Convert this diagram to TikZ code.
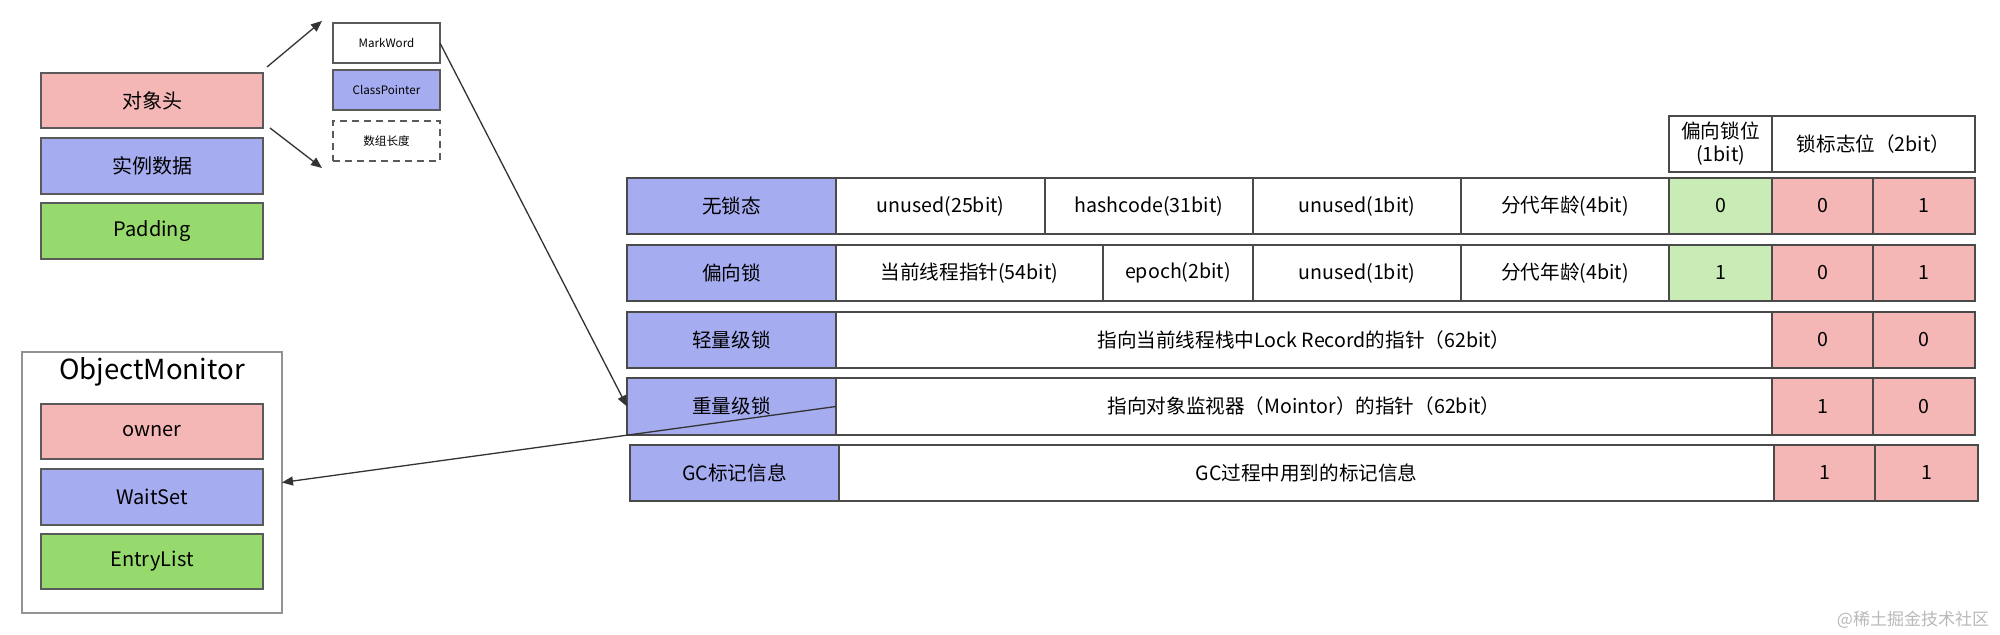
\documentclass[tikz,border=0pt]{standalone}
\usepackage{fontspec}
\setmainfont{Noto Sans CJK SC}
\usetikzlibrary{arrows.meta}
\definecolor{pinkc}{HTML}{F4B7B6}
\definecolor{bluec}{HTML}{A6ACF0}
\definecolor{greenc}{HTML}{96D96C}
\definecolor{lgreenc}{HTML}{C9EBB5}
\definecolor{edgec}{HTML}{4A4A4A}
\definecolor{boxedge}{HTML}{5A5A5A}
\definecolor{arrowc}{HTML}{333333}
\newcommand\mycell[7]{\node[#1,minimum width=#5*0.5pt,minimum height=#6*0.5pt,anchor=north west] (#2) at (#3,#4) {#7};}
\tikzset{
  cellbox/.style={draw=edgec,line width=0.8pt,inner sep=0pt,outer sep=0pt,fill=white,font=\fontsize{9.8}{11.5}\selectfont,align=center},
  sidebox/.style={draw=boxedge,line width=0.75pt,inner sep=0pt,outer sep=0pt,font=\fontsize{10}{12}\selectfont},
  smallbox/.style={draw=boxedge,line width=0.75pt,inner sep=0pt,outer sep=0pt,fill=white,font=\fontsize{5.8}{7}\selectfont},
  conn/.style={draw=arrowc,line width=0.65pt,-{Triangle[length=5.5pt,width=4.5pt]}}
}
\begin{document}
\begin{tikzpicture}[x=0.5pt,y=-0.5pt]
\useasboundingbox[fill=white] (0,0) rectangle (2000,635);
% left object layout
\mycell{sidebox,fill=pinkc}{oh}{41}{73}{222}{55}{对象头}
\mycell{sidebox,fill=bluec}{id}{41}{138}{222}{56}{实例数据}
\mycell{sidebox,fill=greenc}{pad}{41}{203}{222}{56}{Padding}
% header parts
\mycell{smallbox}{mw}{333}{23}{107}{40}{MarkWord}
\mycell{smallbox,fill=bluec}{cp}{333}{70}{107}{40}{ClassPointer}
\mycell{smallbox,dashed,dash pattern=on 3.5pt off 2.5pt}{al}{333}{121}{107}{40}{数组长度}
\coordinate (a1s) at (267,67);
\coordinate (a1e) at (322,21);
\coordinate (a2s) at (270,128);
\coordinate (a2e) at (322,168);
\draw[conn] (a1s) -- (a1e);
\draw[conn] (a2s) -- (a2e);
% ObjectMonitor
\mycell{draw=gray!85,line width=0.7pt,inner sep=0pt,outer sep=0pt}{om}{22}{352}{260}{261}{}
\node[font=\fontsize{13.8}{16}\selectfont] (omt) at (152,372) {ObjectMonitor};
\mycell{sidebox,fill=pinkc}{own}{41}{404}{222}{55}{owner}
\mycell{sidebox,fill=bluec}{ws}{41}{469}{222}{56}{WaitSet}
\mycell{sidebox,fill=greenc}{el}{41}{534}{222}{55}{EntryList}
% header row of table
\mycell{cellbox}{hb}{1669}{116}{103}{56}{偏向锁位\\(1bit)}
\mycell{cellbox}{hl}{1772}{116}{203}{56}{锁标志位（2bit）}
% row 1
\mycell{cellbox,fill=bluec}{r1a}{627}{178}{209}{56}{无锁态}
\mycell{cellbox}{r1b}{836}{178}{209}{56}{unused(25bit)}
\mycell{cellbox}{r1c}{1045}{178}{208}{56}{hashcode(31bit)}
\mycell{cellbox}{r1d}{1253}{178}{208}{56}{unused(1bit)}
\mycell{cellbox}{r1e}{1461}{178}{208}{56}{分代年龄(4bit)}
\mycell{cellbox,fill=lgreenc}{r1f}{1669}{178}{103}{56}{0}
\mycell{cellbox,fill=pinkc}{r1g}{1772}{178}{101}{56}{0}
\mycell{cellbox,fill=pinkc}{r1h}{1873}{178}{102}{56}{1}
% row 2
\mycell{cellbox,fill=bluec}{r2a}{627}{245}{209}{56}{偏向锁}
\mycell{cellbox}{r2b}{836}{245}{267}{56}{当前线程指针(54bit)}
\mycell{cellbox}{r2c}{1103}{245}{150}{56}{epoch(2bit)}
\mycell{cellbox}{r2d}{1253}{245}{208}{56}{unused(1bit)}
\mycell{cellbox}{r2e}{1461}{245}{208}{56}{分代年龄(4bit)}
\mycell{cellbox,fill=lgreenc}{r2f}{1669}{245}{103}{56}{1}
\mycell{cellbox,fill=pinkc}{r2g}{1772}{245}{101}{56}{0}
\mycell{cellbox,fill=pinkc}{r2h}{1873}{245}{102}{56}{1}
% row 3
\mycell{cellbox,fill=bluec}{r3a}{627}{312}{209}{56}{轻量级锁}
\mycell{cellbox}{r3b}{836}{312}{936}{56}{指向当前线程栈中Lock Record的指针（62bit）}
\mycell{cellbox,fill=pinkc}{r3g}{1772}{312}{101}{56}{0}
\mycell{cellbox,fill=pinkc}{r3h}{1873}{312}{102}{56}{0}
% row 4
\mycell{cellbox,fill=bluec}{r4a}{627}{378}{209}{57}{重量级锁}
\mycell{cellbox}{r4b}{836}{378}{936}{57}{指向对象监视器（Mointor）的指针（62bit）}
\mycell{cellbox,fill=pinkc}{r4g}{1772}{378}{101}{57}{1}
\mycell{cellbox,fill=pinkc}{r4h}{1873}{378}{102}{57}{0}
% row 5
\mycell{cellbox,fill=bluec}{r5a}{630}{445}{209}{56}{GC标记信息}
\mycell{cellbox}{r5b}{839}{445}{935}{56}{GC过程中用到的标记信息}
\mycell{cellbox,fill=pinkc}{r5g}{1774}{445}{101}{56}{1}
\mycell{cellbox,fill=pinkc}{r5h}{1875}{445}{103}{56}{1}
% connectors
\draw[conn] (mw.east) -- (r4a.west);
\draw[conn] (r4a.east) -- (om.east);
% watermark
\node[font=\fontsize{8.5}{10}\selectfont,text=gray!55] (wm) at (1913,620) {@稀土掘金技术社区};
\end{tikzpicture}
\end{document}
